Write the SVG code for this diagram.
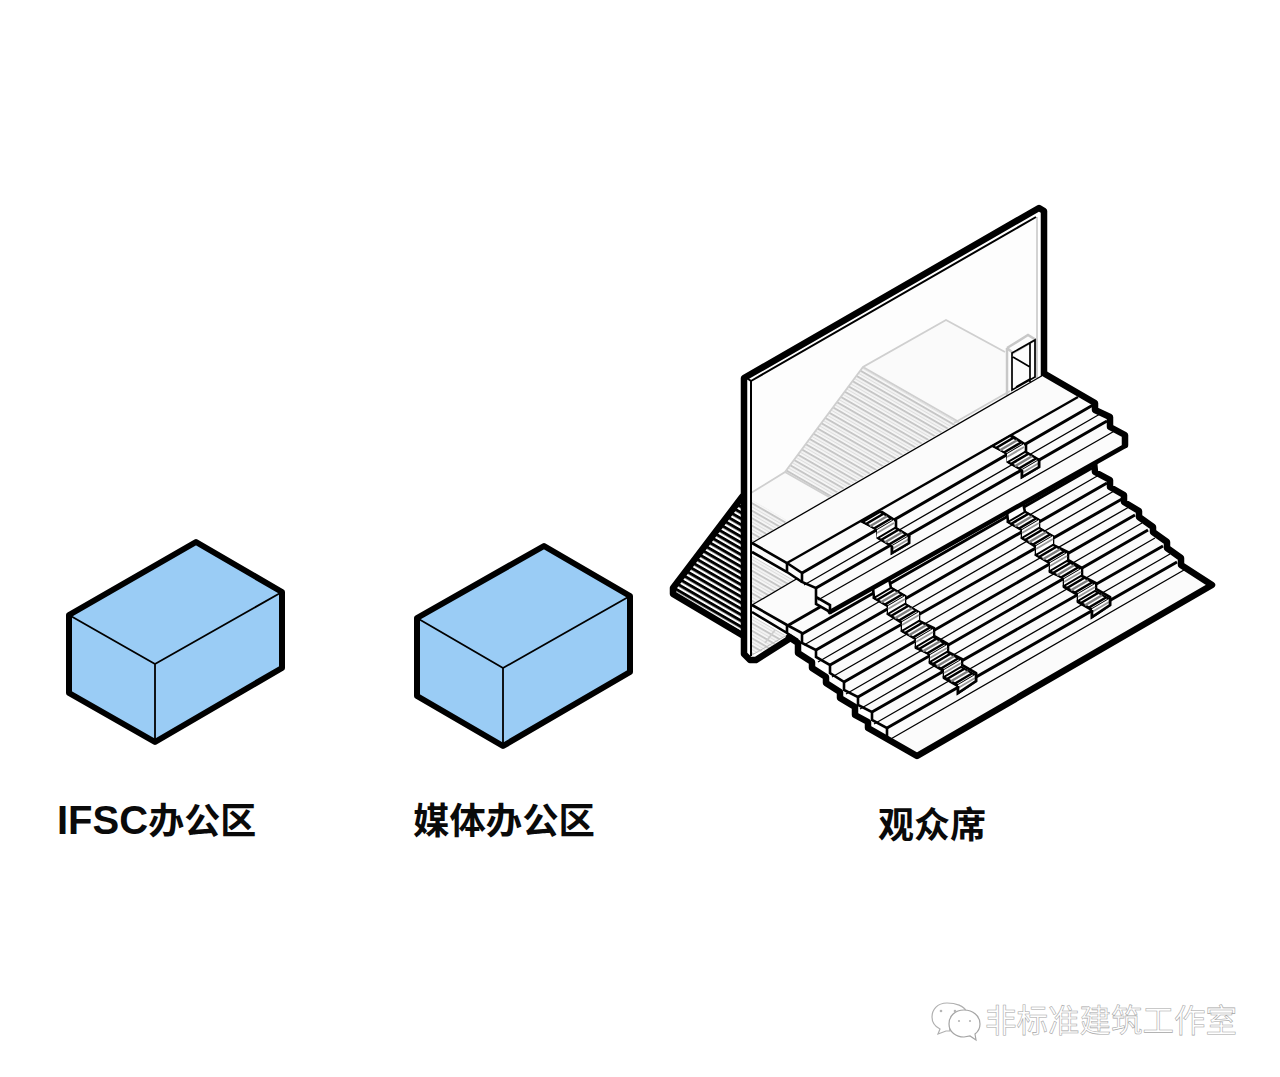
<svg xmlns="http://www.w3.org/2000/svg" xmlns:xlink="http://www.w3.org/1999/xlink" width="1280" height="1077" viewBox="0 0 1280 1077">
<style>
.box{fill:#9accf5;stroke:#000;stroke-width:6;stroke-linejoin:round}
.inner{fill:none;stroke:#000;stroke-width:1.8}
.lab{font-family:"Liberation Sans","Noto Sans CJK SC",sans-serif;font-weight:700;fill:#0a0a0a}
.cjk{font-family:"Noto Sans CJK SC",sans-serif;font-size:36px}
.thick{fill:none;stroke:#000;stroke-width:6.5;stroke-linejoin:round;stroke-linecap:round}
.edge{fill:none;stroke:#000;stroke-width:4.6;stroke-linecap:round}
.med{fill:none;stroke:#000;stroke-width:2.6;stroke-linejoin:miter}
.tk{fill:none;stroke:#000;stroke-width:3;stroke-linecap:butt}
.tn{fill:none;stroke:#000;stroke-width:1.3}
.floor{fill:#fbfbfb;stroke:none}
.ghost{fill:none;stroke:#cfcfcf;stroke-width:1.8}
.wm{font-family:"Noto Sans CJK SC",sans-serif;font-size:31.5px;font-weight:400;fill:#fff;stroke:#a5a5a5;stroke-width:.55}
</style>
<defs>
<pattern id="blk" width="10" height="5.2" patternUnits="userSpaceOnUse" patternTransform="rotate(30 742 497)">
<rect width="10" height="5.2" fill="#fff"/><rect width="10" height="3" fill="#000"/>
</pattern>
<pattern id="gry" width="10" height="6.5" patternUnits="userSpaceOnUse" patternTransform="rotate(30 863 367)">
<rect width="10" height="6.5" fill="#f8f8f8"/><rect width="10" height="2" fill="#c6c6c6"/><rect y="3.6" width="10" height="1.2" fill="#dedede"/>
</pattern>
<g id="step">
<polygon points="0,0 14,8 31,-2 17,-10" fill="#fff" stroke="#000" stroke-width="2"/>
<polygon points="14,8 14,16 31,6 31,-2" fill="#fff"/>
<path d="M3,2 L20,-8 M11,6.5 L28,-3.5" stroke="#000" stroke-width="2.6" fill="none"/>
<path d="M7,4.2 L24,-5.8" stroke="#7d7d7d" stroke-width="2.4" fill="none"/>
<path d="M14,11 L31,1" stroke="#9a9a9a" stroke-width="2" fill="none"/>
</g>
<g id="stairLong">
<path class="med" style="fill:#fff" d="M1007,512 L1008,522 L1022,530 L1022,538 L1036,547 L1036,555 L1050,563 L1050,572 L1064,578 L1064,587 L1078,595 L1078,602 L1092,610 L1092,617 L1110,605 L1110,597 L1096,589 L1096,583 L1082,576 L1082,568 L1068,560 L1068,552 L1053,545 L1053,537 L1039,528 L1039,520 L1025,512 L1023,503 Z"/>
<use xlink:href="#step" href="#step" x="1008" y="522"/>
<use xlink:href="#step" href="#step" x="1022" y="538"/>
<use xlink:href="#step" href="#step" x="1036" y="555"/>
<use xlink:href="#step" href="#step" x="1050" y="571"/>
<use xlink:href="#step" href="#step" x="1064" y="586"/>
<use xlink:href="#step" href="#step" x="1078" y="601"/>
<path class="med" d="M1092,610 L1092,617 L1110,605 L1110,597"/>
</g>
<g id="stairShort">
<path class="med" style="fill:#fff" d="M993,446 L1007,453 L1008,462 L1022,470 L1022,477 L1039,467 L1039,460 L1026,452 L1026,445 L1012,436 Z"/>
<use xlink:href="#step" href="#step" x="993" y="446"/>
<use xlink:href="#step" href="#step" x="1008" y="462"/>
<path class="med" d="M1022,470 L1022,477 L1039,467 L1039,460"/>
</g>
</defs>

<rect width="1280" height="1077" fill="#fff"/>

<g id="box-ifsc">
<polygon class="box" points="196,542 282,592 282,668 155,742 69,693 69,615"/>
<path class="inner" d="M69,615 L155,664 L282,592 M155,664 L155,742"/>
</g>
<g id="box-media">
<polygon class="box" points="544,546 630,596 630,672 503,746 417,696 417,618"/>
<path class="inner" d="M417,618 L503,668 L630,596 M503,668 L503,746"/>
</g>

<g id="auditorium">
<polygon points="742,497 672,587 672,593 742,633" fill="url(#blk)"/>
<path class="thick" d="M742,497 L673,588 L673,594 L742,635"/>

<polygon points="751,381 1037,217 1037,378 751,543" fill="#fdfdfd"/>
<polygon points="751,493 785,472 863,367 946,320 1005,352 1005,398 752,543" fill="#fafafa"/>
<polygon points="863,367 785,472 829,497 959,422" fill="url(#gry)"/>
<polygon points="752,500 788,521 752,542" fill="url(#gry)"/>
<polygon points="752,556 797,582 752,604" fill="url(#gry)"/>
<polygon points="752,616 785,635 770,648 752,655" fill="url(#gry)"/>
<path class="ghost" d="M751,493 L785,472 L863,367 L946,320 L1005,352 M785,472 L829,497 M863,367 L959,422 M952,428 L1012,393 M954,423 L1010,391 M1037,217 L1037,378 M765,643 L775,630"/>
<path d="M1007,348 L1028,335 L1036,340 L1036,378 M1007,348 L1013,353 L1035,340 M1007,348 L1007,398" fill="none" stroke="#c8c8c8" stroke-width="2.5"/>
<path d="M1012,390 L1012,353 L1035,340 L1035,377 Z M1030,343 L1030,382 M1013,357 L1030,367 M1016,387 L1030,379" fill="none" stroke="#000" stroke-width="1.7"/>

<path d="M751,381 L1036,217 M744,376 L751,381 L751,656" fill="none" stroke="#000" stroke-width="2"/>
<path class="thick" d="M789,639 L756,660 L750,660 L744,654 L744,378 L1039,208 L1044,211 L1044,376"/>
<path d="M752,655 L787,635" stroke="#bdbdbd" stroke-width="1" fill="none"/>

<polygon class="floor" points="752,605 800,577 1093,465 1095,472 1110,480 1110,487 1124,495 1124,502 1139,511 1139,517 1153,527 1153,532 1167,542 1167,548 1181,558 1181,565 1212,585 917,756 887,735 887,728 872,720 872,712 858,705 858,697 844,690 844,682 830,673 830,665 816,657 816,650 802,643 802,640 787,633 752,612"/>
<path class="tn" d="M752,605 L810,571"/>
<path class="med" d="M752,605 L787,625 L802,633 L802,643 L816,650 L816,657 L830,665 L830,673 L844,682 L844,690 L858,697 L858,705 L872,712 L872,720 L887,728 L887,737"/>
<path class="med" d="M752,612 L787,633 L798,640 M787,625 L787,633"/>
<path class="tk" d="M787,626 L900,561"/>
<path class="tk" d="M802,634 L1092,468 M816,650 L1107,483 M830,665 L1122,499 M844,682 L1135,515 M858,697 L1148,530 M872,712 L1163,546 M887,728 L1177,562"/>
<path class="tn" d="M804,645 L1099,475 M818,662 L1114,491 M832,677 L1129,507 M846,694 L1142,523 M860,709 L1155,538 M874,724 L1170,554 M889,740 L1184,570"/>
<use xlink:href="#stairLong" href="#stairLong"/>
<use xlink:href="#stairLong" href="#stairLong" x="-134" y="76"/>
<path class="thick" d="M1094,462 L1095,472 L1110,480 L1110,487 L1124,495 L1124,502 L1139,511 L1139,517 L1153,527 L1153,532 L1167,542 L1167,548 L1181,558 L1181,565 L1212,585 L917,756 L868,728 L868,722 L855,715 L855,707 L840,698 L840,692 L826,683 L826,677 L812,668 L812,662 L798,653 L798,643 L789,637"/>

<polygon class="floor" points="752,543 1045,374 1095,403 1095,410 1110,417 1110,427 1125,435 1125,447 830,613 816,604 816,597 802,588 802,580 787,572 752,552"/>
<path class="tn" d="M752,543 L1045,374"/>
<path class="med" d="M752,543 L787,563 L802,573 L802,582 L816,588 L816,597 L830,605 L830,612 L816,604 L816,597"/>
<path class="med" d="M752,552 L787,572 L802,582 M787,563 L787,572"/>
<path class="tk" style="stroke-width:2.4" d="M787,563 L1078,397"/>
<path class="tk" d="M802,573 L1093,405 M816,588 L1107,421"/>
<path class="tn" d="M804,585 L1100,414 M818,600 L1118,429"/>
<use xlink:href="#stairShort" href="#stairShort"/>
<use xlink:href="#stairShort" href="#stairShort" x="-130" y="76"/>
<path class="thick" d="M1045,374 L1095,403 L1095,410 L1110,417 L1110,427 L1125,435 L1125,445"/>
<path class="edge" d="M1125,446 L830,612"/>
</g>

<g id="labels">
<text class="lab" x="57" y="834" font-size="40">IFSC<tspan class="cjk">办公区</tspan></text>
<text class="lab cjk" x="413" y="834" style="font-size:36.4px">媒体办公区</text>
<text class="lab cjk" x="878" y="838">观众席</text>
</g>

<g id="watermark">
<path d="M947,1003 C937,1003 932,1010 932,1017 C932,1023 936,1027 940,1029 L938,1034 L946,1031 L950,1031 C948,1020 955,1012 966,1011 C964,1006 956,1003 947,1003 Z" fill="#fff" stroke="#b0b0b0" stroke-width="1.2"/>
<path d="M964,1010 C955,1010 949,1016 949,1024 C949,1032 956,1037 964,1037 L970,1036 L976,1040 L975,1034 C979,1031 980,1027 980,1024 C980,1016 973,1010 964,1010 Z" fill="#fff" stroke="#a5a5a5" stroke-width="1.2"/>
<g fill="#b5b5b5"><circle cx="941" cy="1011" r="1.3"/><circle cx="955" cy="1011" r="1.3"/><circle cx="959" cy="1021" r="1.1"/><circle cx="970" cy="1021" r="1.1"/></g>
<text class="wm" x="985" y="1032">非标准建筑工作室</text>
</g>
</svg>
